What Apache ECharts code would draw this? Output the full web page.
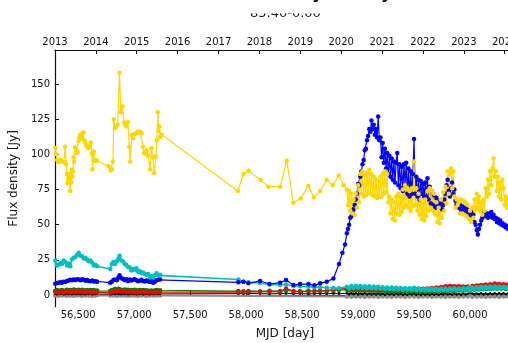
<!DOCTYPE html>
<html>
<head>
<meta charset="utf-8">
<script src="https://cdn.jsdelivr.net/npm/echarts@6/dist/echarts.min.js"></script>
<style>
  html, body { margin: 0; padding: 0; overflow: hidden; background: #fff; }
  #chart { width: 530px; height: 343px; }
</style>
</head>
<body>
<div id="chart"></div>
<script>
// ---- axis ticks ----
const mjdTicks = [56500, 57000, 57500, 58000, 58500, 59000, 59500, 60000];
const fluxTicks = [0, 25, 50, 75, 100, 125, 150];
const yearTicks = [56293, 56658, 57023, 57388, 57754, 58119, 58484, 58849, 59215, 59580, 59945, 60310];
const yearLabels = ['2013', '2014', '2015', '2016', '2017', '2018', '2019', '2020', '2021', '2022', '2023', '2024'];

// ---- observing epochs (MJD) ----
const earlyT = [56295, 56310, 56325, 56340, 56355, 56370, 56385, 56400, 56415, 56430,
  56445, 56460, 56475, 56490, 56505, 56520, 56535, 56550, 56565, 56580,
  56595, 56610, 56625, 56640, 56655, 56670, 56786, 56800, 56815, 56830,
  56845, 56860, 56870, 56885, 56900, 56915, 56930, 56945, 56960, 56975,
  56990, 57005, 57020, 57035, 57050, 57065, 57080, 57095, 57110, 57125,
  57140, 57155, 57170, 57185, 57200, 57215, 57232];
const midT = [57931, 57976, 58021, 58125, 58209, 58304, 58357, 58423, 58482, 58557, 58610, 58661, 58720, 58780, 58830];
const lateT = [58900, 58920, 58940, 58960, 58980, 59000, 59020, 59040, 59060, 59080,
  59100, 59120, 59140, 59160, 59180, 59200, 59220, 59240, 59260, 59280,
  59300, 59320, 59340, 59360, 59380, 59400, 59420, 59440, 59460, 59480,
  59500, 59520, 59540, 59560, 59580, 59600, 59620, 59640, 59660, 59680,
  59700, 59720, 59740, 59760, 59780, 59800, 59820, 59840, 59860, 59880,
  59900, 59920, 59940, 59960, 59980, 60000, 60020, 60040, 60060, 60080,
  60100, 60120, 60140, 60160, 60180, 60200, 60220, 60240, 60260, 60280,
  60300, 60320, 60340];
const denseT = [58900, 58910, 58920, 58930, 58940, 58950, 58960, 58970, 58980, 58990,
  59000, 59010, 59020, 59030, 59040, 59050, 59060, 59070, 59080, 59090,
  59100, 59110, 59120, 59130, 59140, 59150, 59160, 59170, 59180, 59190,
  59200, 59210, 59220, 59230, 59240, 59250, 59260, 59270, 59280, 59290,
  59300, 59310, 59320, 59330, 59340, 59350, 59360, 59370, 59380, 59390,
  59400, 59410, 59420, 59430, 59440, 59450, 59460, 59470, 59480, 59490,
  59500, 59510, 59520, 59530, 59540, 59550, 59560, 59570, 59580, 59590,
  59600, 59610, 59620, 59630, 59640, 59650, 59660, 59670, 59680, 59690,
  59700, 59710, 59720, 59730, 59740, 59750, 59760, 59770, 59780, 59790,
  59800, 59810, 59820, 59830, 59840, 59850, 59860, 59870, 59880, 59890,
  59900, 59910, 59920, 59930, 59940, 59950, 59960, 59970, 59980, 59990,
  60000, 60010, 60020, 60030, 60040, 60050, 60060, 60070, 60080, 60090,
  60100, 60110, 60120, 60130, 60140, 60150, 60160, 60170, 60180, 60190,
  60200, 60210, 60220, 60230, 60240, 60250, 60260, 60270, 60280, 60290,
  60300, 60310, 60320, 60330, 60340];

// ---- yellow (gold) ----
const yellowEarlyT = [56295, 56303, 56312, 56322, 56331, 56345, 56360, 56372, 56384, 56393,
  56400, 56405, 56410, 56415, 56420, 56425, 56429, 56433, 56438, 56443,
  56448, 56453, 56459, 56465, 56472, 56480, 56488, 56495, 56503, 56510,
  56518, 56525, 56532, 56540, 56548, 56556, 56565, 56574, 56584, 56593,
  56602, 56612, 56622, 56628, 56635, 56640, 56648, 56658, 56667, 56771,
  56790, 56801, 56810, 56819, 56828, 56837, 56852, 56869, 56881, 56896,
  56911, 56920, 56929, 56944, 56956, 56965, 56980, 56994, 57005, 57018,
  57030, 57042, 57054, 57066, 57078, 57090, 57099, 57113, 57125, 57143,
  57155, 57167, 57179, 57194, 57203, 57212, 57218, 57224, 57232, 57247];
const yellowEarlyF = [104.5, 100, 96, 94.5, 94.8, 96, 95, 94.5, 105.5, 93,
  86, 79.5, 82, 84, 81, 83, 74, 86, 80, 89,
  84, 88, 98, 95, 104.8, 101, 102.5, 101.5, 109.5, 112,
  114, 111, 113, 115, 115.5, 110, 108, 106, 105, 104.6,
  106, 108.5, 100.7, 89.5, 101, 102, 95.5, 96, 95.5, 91.5,
  88.5, 89.5, 95, 125, 118.5, 119.6, 121, 158, 130, 134,
  122.6, 121, 119.8, 123, 105.5, 94.8, 113.8, 111.5, 114.5, 115,
  116, 115.5, 116.2, 115, 105.5, 101, 100.7, 103, 99, 89.5,
  104.3, 98, 86.7, 98.5, 110, 130, 116.7, 119.8, 112.3, 114];
const yellowMidT = [57926, 57976, 58021, 58131, 58199, 58304, 58363, 58422, 58488, 58556, 58607, 58661, 58720, 58774, 58828, 58870];
const yellowMidF = [73.9, 86, 88.4, 81.7, 77, 77, 95.5, 65.6, 68.7, 77.5, 69.4, 74, 81.7, 78, 85, 78];
const yellowLateF = [75, 64, 74, 60, 72, 58, 68, 57, 72, 62,
  78, 66, 86, 72, 88, 70, 85, 71, 87, 73,
  89, 72, 86, 71, 84, 70, 82, 69, 81, 70,
  84, 70, 86, 72, 88, 73, 86, 66, 70, 58,
  68, 54, 66, 53, 70, 58, 72, 57, 70, 59,
  75, 62, 78, 64, 76, 62, 74, 60, 76, 63,
  95, 64, 76, 60, 72, 57, 68, 54, 65, 53,
  68, 56, 74, 60, 76, 62, 74, 60, 72, 57,
  66, 52, 62, 51, 68, 55, 73, 60, 77, 65,
  88, 72, 86, 90, 76, 88, 70, 62, 68, 64,
  66, 58, 68, 58, 67, 57, 66, 56, 64, 54,
  60, 52, 62, 55, 68, 60, 72, 62, 70, 60,
  66, 57, 68, 60, 76, 70, 82, 72, 88, 78,
  90, 97, 84, 88, 74, 84, 70, 80, 68, 82,
  76, 64, 70, 62, 68];

// ---- blue ----
const blueEarlyF = [8, 8.5, 8.8, 9, 8.7, 9.5, 9.2, 10, 10.3, 10.8,
  10.5, 11, 10.6, 11.2, 11, 10.5, 11.2, 10.8, 10.2, 10.6,
  10, 9.8, 10.4, 9.6, 9.8, 9.4, 8.8, 9.5, 10.7, 11,
  10.5, 12.5, 14, 12, 11.5, 10.5, 11.2, 10, 11, 10.4,
  10.8, 11.2, 10.5, 9.8, 10.2, 10.8, 10, 9.6, 10.4, 9.8,
  9.2, 9.6, 8.8, 9.5, 10.5, 10.8, 11];
const blueMidF = [9, 9.5, 8.3, 10, 7.8, 8.8, 10.7, 7.1, 7.8, 7.8, 6.9, 8.3, 9.5, 11.8, 22];
const blueRiseT = [58860, 58884];
const blueRiseF = [30, 36];
const blueLateF = [44, 47, 50, 55, 56, 59, 61, 64, 68, 72,
  79, 78, 84, 88, 93, 96, 103, 104, 110, 113,
  118, 116, 124, 118, 121, 114, 118, 112, 127, 110,
  112, 98, 108, 94, 104, 90, 101, 86, 99, 84,
  97, 82, 95, 80, 94, 101, 78, 93, 76, 91,
  74, 93, 78, 94, 72, 90, 70, 88, 72, 86,
  111, 72, 84, 70, 82, 68, 81, 72, 79, 70,
  80, 70, 83, 68, 77, 65, 74, 64, 71, 62,
  69, 64, 67, 62, 65, 61, 64, 68, 72, 78,
  82, 74, 70, 76, 80, 72, 75, 67, 64, 66,
  62, 64, 60, 63, 60, 62, 59, 61, 58, 60,
  57, 59, 56, 57, 52, 50, 46, 43, 47, 50,
  53, 55, 57, 59, 56, 58, 55, 58, 56, 59,
  55, 57, 54, 55, 52, 54, 51, 53, 50, 51,
  49, 50, 48, 49, 47];

// ---- cyan ----
const cyanEarlyF = [24.5, 21, 21.5, 23, 22, 24.5, 23.5, 21, 22.5, 20.5,
  25.5, 26.5, 27, 28.5, 30, 28, 27.5, 26, 26.5, 25,
  24, 24.5, 23, 21, 21.5, 20.5, 18.5, 22, 23.5, 22,
  24, 26, 28, 24.5, 24, 22, 21.5, 20, 19.5, 17.5,
  18.5, 18, 19, 16.5, 17, 15.5, 16, 15, 14.5, 15,
  12.5, 13.5, 12, 14, 15.5, 14, 14.5];
const cyanMidF = [11, 9.5, 9, 8.5, 7.5, 7.2, 7.5, 6.6, 6.2, 6, 5.6, 5.5, 5.2, 5, 4.8];
const cyanLateF = [5.8, 4.6, 6.4, 5, 6.6, 5.2, 6.5, 5, 6.3, 4.9,
  6.2, 4.8, 6, 4.7, 5.8, 4.5, 5.6, 4.3, 5.4, 4.2,
  5.3, 4, 5.1, 3.9, 5, 3.8, 4.9, 3.7, 4.8, 3.6,
  5.2, 3.6, 4.6, 3.5, 4.5, 3.4, 4.4, 3.4, 4.5, 3.5,
  4.4, 3.4, 4.5, 3.5, 4.6, 3.6, 4.7, 3.7, 4.8, 3.8,
  4.7, 3.7, 4.8, 3.8, 5, 3.2, 5.4, 4.2, 5.6, 4.4,
  5.8, 4.5, 5.9, 4.6, 6, 4.7, 6.1, 4.8, 6, 4.7,
  5.9, 4.8, 5.8];

// ---- green ----
const greenEarlyF = [3, 3.5, 2.8, 3.2, 3.6, 2.9, 3.3, 3.8, 3.2, 3.6,
  3.4, 3.9, 3.5, 3.2, 3.7, 3.3, 3.8, 3.4, 3, 3.5,
  3.1, 3.6, 3.2, 3.5, 2.9, 3.3, 2.8, 3.4, 3.8, 4.2,
  3.6, 4.5, 4, 3.7, 3.4, 3.9, 3.5, 3.8, 3.2, 3.6,
  3.3, 3.7, 3.4, 3.1, 3.5, 3.2, 3.6, 3, 3.4, 3.1,
  2.8, 3.2, 2.9, 3.3, 3.6, 3.2, 3.4];
const greenMidF = [2.8, 2.6, 2.9, 2.7, 3, 2.8, 3.2, 2.9, 2.7, 3, 2.8, 3.1, 2.9, 3.3, 3.5];
const greenLateF = [3.8, 3.2, 4, 3.3, 4.1, 3.4, 4, 3.3, 3.9, 3.2,
  3.8, 3.1, 3.7, 3, 3.6, 2.9, 3.5, 2.8, 3.4, 2.7,
  3.3, 2.6, 3.2, 2.6, 3.1, 2.5, 3.1, 2.5, 3, 2.4,
  3.1, 2.5, 3, 2.4, 3.1, 2.5, 3.2, 2.6, 3.3, 2.7,
  3.4, 2.8, 3.5, 2.9, 3.6, 3, 3.7, 3.1, 3.8, 3.2,
  3.9, 3.3, 4, 3.4, 4.1, 2.8, 4.4, 3.8, 4.6, 4,
  4.8, 4.1, 4.9, 4.2, 5, 4.3, 5.1, 4.4, 5.2, 4.4,
  5.1, 4.3, 5];

// ---- red ----
const redEarlyF = [1.8, 2.2, 1.6, 2, 2.4, 1.7, 2.1, 1.9, 2.3, 1.8,
  2.2, 2.5, 2, 2.3, 1.9, 2.4, 2.1, 1.8, 2.2, 1.9,
  2.3, 1.7, 2.1, 1.8, 2, 1.6, 1.5, 2, 2.4, 2.8,
  2.3, 3.2, 2.7, 2.4, 2.1, 2.5, 2, 2.3, 1.9, 2.2,
  1.8, 2.1, 1.7, 2, 2.2, 1.8, 2.1, 1.6, 1.9, 1.7,
  2, 1.6, 1.9, 1.7, 2.1, 1.8, 2];
const redMidF = [2.2, 2.1, 2.4, 2.2, 2.5, 2.3, 5, 2.4, 2.5, 2.6, 2.8, 3, 3.2, 3.8, 4.5];
const redLateF = [4.6, 4.2, 4.8, 4.3, 4.9, 4.4, 4.8, 4.3, 4.7, 4.2,
  4.6, 4.1, 4.5, 4, 4.4, 4, 4.3, 3.9, 4.2, 3.9,
  4.2, 3.8, 4.1, 3.8, 4.1, 3.9, 4.2, 3.9, 4.3, 4,
  4.4, 4.1, 4.5, 4.2, 4.7, 4.4, 4.9, 4.6, 5.2, 4.9,
  5.5, 5.2, 5.9, 5.6, 6.4, 6.1, 6.6, 6.2, 6.5, 6.1,
  6.4, 6, 6.3, 5.9, 6.2, 4.5, 6.6, 6.3, 7, 6.7,
  7.3, 7, 7.6, 7.2, 7.9, 7.4, 8.3, 7.6, 8.1, 7.4,
  7.9, 7.3, 7.8];

// ---- black ----
const blackEarlyF = [0.9, 0.6, 1, 0.7, 0.9, 0.5, 0.8, 1, 0.7, 0.9,
  0.6, 1.1, 0.8, 0.7, 1, 0.6, 0.9, 0.8, 0.6, 1,
  0.7, 0.9, 0.6, 0.8, 0.7, 0.9, 0.6, 0.8, 1, 0.7,
  1.1, 0.9, 0.8, 0.6, 1, 0.7, 0.9, 0.6, 0.8, 1,
  0.7, 0.9, 0.6, 0.8, 0.7, 1, 0.6, 0.8, 0.9, 0.7,
  0.6, 0.9, 0.7, 0.8, 1, 0.7, 0.8];
const blackMidF = [1, 0.9, 1.1, 1, 0.8, 1, 1.2, 0.9, 1, 0.8, 1, 1.1, 0.9, 1.2, 1];
const blackLateF = [1.2, 0.5, 1.3, 0.6, 1.2, 0.4, 1.1, 0.5, 1.2, 0.4,
  1, 0.3, 1.1, 0.4, 1, 0.3, 0.9, 0.2, 1, 0.3,
  0.9, 0.2, 1, 0.3, 0.9, 0.2, 0.8, 0.2, 0.9, 0.3,
  1, 0.2, 0.8, 0.1, 0.9, 0.2, 0.8, 0.1, 0.9, 0.2,
  0.8, 0.2, 0.9, 0.3, 1, 0.3, 0.9, 0.2, 1, 0.3,
  0.9, 0.2, 1, 0.3, 0.9, 1.5, 1, 0.4, 1.1, 0.5,
  1.2, 0.4, 1.1, 0.5, 1.2, 0.6, 1.3, 0.5, 1.2, 0.6,
  1.3, 0.5, 1.2];

// ---- grey ----
const greyEarlyF = [-0.3, 0.2, -0.5, 0.1, -0.4, 0.3, -0.2, -0.6, 0.2, -0.3,
  0.1, -0.5, 0.2, -0.4, 0.3, -0.2, -0.5, 0.1, -0.3, 0.2,
  -0.4, 0.1, -0.5, 0.2, -0.3, 0.1, -0.4, 0.2, -0.3, 0.1,
  -0.5, 0.3, -0.2, -0.4, 0.2, -0.3, 0.1, -0.5, 0.2, -0.4,
  0.1, -0.3, 0.2, -0.5, 0.1, -0.4, 0.3, -0.2, -0.5, 0.1,
  -0.3, 0.2, -0.4, 0.1, -0.3, 0.2, -0.4];
const greyMidF = [1.3, 1.2, 1.3, 1.2, 1.3, 1.3, 1.2, 1.3, 1.2, 1.3, 1.2, 1.3, 1.2, 1.3, 1.2];
const greyLateF = [-1.1, -0.3, -1.2, -0.2, -1, -0.3, -1.1, -0.2, -1.2, -0.4,
  -1, -0.3, -1.1, -0.2, -1.2, -0.3, -1, -0.4, -1.1, -0.3,
  -1.2, -0.2, -1, -0.3, -1.1, -0.4, -1.2, -0.3, -1, -0.2,
  -1.1, -0.3, -1.2, -0.4, -1, -0.3, -1.1, -0.2, -1.2, -0.3,
  -1, -0.4, -1.1, -0.3, -1.2, -0.2, -1, -0.3, -1.1, -0.4,
  -1.2, -0.3, -1, -0.2, -1.1, 0.8, -1.2, -0.4, -1, -0.3,
  -1.1, -0.2, -1.2, -0.3, -1, -0.4, -1.1, -0.3, -1.2, -0.2,
  -1, -0.3, -1.1];

// pair epochs with fluxes, segment by segment
function pts(...segs) {
  const out = [];
  for (const [t, f] of segs) {
    const n = Math.min(t.length, f.length);
    for (let i = 0; i < n; i++) out.push([t[i], f[i]]);
  }
  return out;
}

const FONT = '"DejaVu Sans", "Liberation Sans", sans-serif';
const STAR = 'path://M0,-1L0.29,-0.4L0.95,-0.31L0.47,0.15L0.59,0.81L0,0.5L-0.59,0.81L-0.47,0.15L-0.95,-0.31L-0.29,-0.4Z';

function lineSeries(name, color, data, extra) {
  return Object.assign({
    name, type: 'line', data,
    xAxisIndex: 0, yAxisIndex: 0,
    symbol: 'circle', symbolSize: 4, showSymbol: true,
    lineStyle: { color, width: 1.2 },
    itemStyle: { color },
    emphasis: { disabled: true },
    animation: false, clip: true
  }, extra || {});
}

const chart = echarts.init(document.getElementById('chart'), null, { renderer: 'canvas' });

const xMin = 56293, xMax = 60400;
const axisLine = { show: true, lineStyle: { color: '#111', width: 1.2 } };
const tickStyle = { color: '#111', width: 1 };

chart.setOption({
  backgroundColor: '#fff',
  animation: false,
  grid: { left: 55, top: 50, width: 459.8, height: 256.7, outerBoundsMode: 'none', containLabel: false },
  xAxis: [
    {
      type: 'value', position: 'bottom', min: xMin, max: xMax,
      name: 'MJD [day]', nameLocation: 'middle', nameGap: 21,
      nameTextStyle: { fontFamily: FONT, fontSize: 12, color: '#111' },
      axisLine,
      axisTick: { show: true, inside: true, length: 4, lineStyle: tickStyle, customValues: mjdTicks },
      axisLabel: { fontFamily: FONT, fontSize: 10, color: '#111', margin: 4, customValues: mjdTicks },
      splitLine: { show: false }
    },
    {
      type: 'value', position: 'top', min: xMin, max: xMax,
      axisLine,
      axisTick: { show: true, inside: true, length: 4, lineStyle: tickStyle, customValues: yearTicks },
      axisLabel: {
        fontFamily: FONT, fontSize: 10, color: '#111', margin: 3, customValues: yearTicks,
        formatter: v => { const i = yearTicks.indexOf(Math.round(v)); return i >= 0 ? yearLabels[i] : ''; }
      },
      splitLine: { show: false }
    }
  ],
  yAxis: [{
    type: 'value', min: -8.3, max: 174.2,
    name: 'Flux density [Jy]', nameLocation: 'middle', nameGap: 31, nameRotate: 90,
    nameTextStyle: { fontFamily: FONT, fontSize: 12, color: '#111' },
    axisLine,
    axisTick: { show: true, inside: true, length: 4, lineStyle: tickStyle, customValues: fluxTicks },
    axisLabel: { fontFamily: FONT, fontSize: 10, color: '#111', margin: 5, customValues: fluxTicks },
    splitLine: { show: false }
  }],
  series: [
    lineSeries('grey', '#8c8c8c', pts([earlyT, greyEarlyF], [lateT, greyLateF]), { symbolSize: 4.5, lineStyle: { color: '#8c8c8c', width: 2 } }),
    lineSeries('grey limits', '#6f7f6f', pts([midT, greyMidF]), { symbol: STAR, symbolSize: 5, lineStyle: { color: '#8c8c8c', width: 0.6 } }),
    lineSeries('black', '#000000', pts([earlyT, blackEarlyF], [midT, blackMidF], [lateT, blackLateF]), { symbolSize: 2.5, lineStyle: { color: '#000', width: 1 } }),
    lineSeries('green', '#008000', pts([earlyT, greenEarlyF], [midT, greenMidF], [lateT, greenLateF]), { symbolSize: 4.5 }),
    lineSeries('red', '#ff0000', pts([earlyT, redEarlyF], [midT, redMidF], [lateT, redLateF])),
    lineSeries('cyan', '#00bfbf', pts([earlyT, cyanEarlyF], [midT, cyanMidF], [lateT, cyanLateF]), { symbolSize: 4.5, lineStyle: { color: '#00bfbf', width: 1.6 } }),
    lineSeries('blue', '#0000ff', pts([earlyT, blueEarlyF], [midT, blueMidF], [blueRiseT, blueRiseF], [denseT, blueLateF]), { symbolSize: 4.5 }),
    lineSeries('gold', '#ffd700', pts([yellowEarlyT, yellowEarlyF], [yellowMidT, yellowMidF], [denseT, yellowLateF]), { symbolSize: 4.5 })
  ],
  graphic: [
    { type: 'text', z: 10, x: 250, y: 14, style: { text: '85.40-0.00', font: '13px ' + FONT, fill: '#111', verticalAlign: 'middle', align: 'left' } },
    { type: 'rect', z: 11, shape: { x: 230, y: 0, width: 110, height: 13.6 }, style: { fill: '#fff' } },
    { type: 'text', z: 12, x: 212, y: -5.5, style: { text: 'Flux density history', font: 'bold 16px ' + FONT, fill: '#000', verticalAlign: 'middle', align: 'left' } }
  ]
});
</script>
</body>
</html>
